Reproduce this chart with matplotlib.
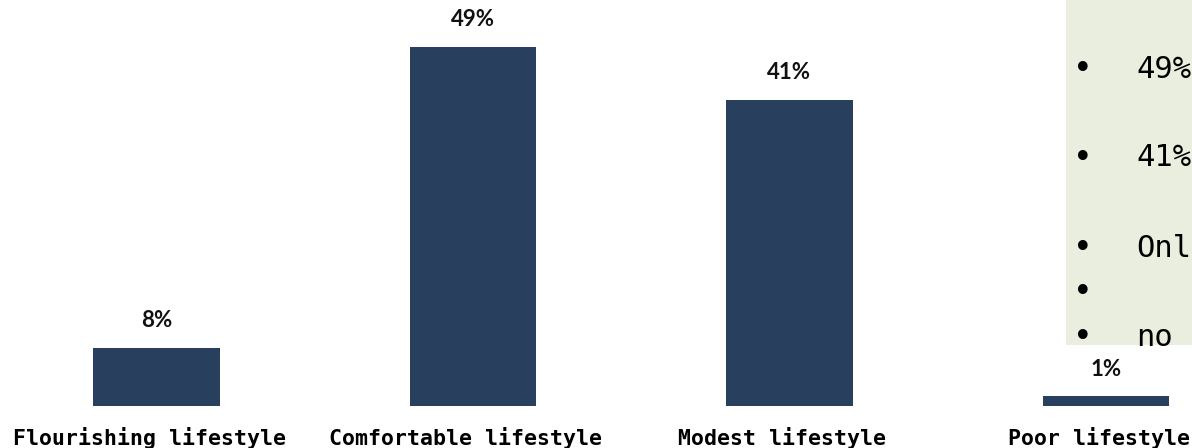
import matplotlib.pyplot as plt
import matplotlib.transforms as mtransforms
from matplotlib.patches import Rectangle

categories = ["Flourishing lifestyle", "Comfortable lifestyle", "Modest lifestyle", "Poor lifestyle"]
shares = [7.9, 48.6, 41.4, 1.35]
value_labels = ["8%", "49%", "41%", "1%"]

# text in the (cropped) note box on the right
note_lines = ["49%", "41%", "Onl", "", "no"]
note_y_px = [69, 158, 248, 292, 337]

W, H = 1192, 448
bar_color = "#283F5E"

fig = plt.figure(figsize=(W / 100, H / 100), dpi=100)
ax = fig.add_axes([0, 42 / H, 1, 406 / H])
x = range(len(categories))
ax.bar(x, shares, width=0.4, color=bar_color, zorder=2)

for xi, v, lab in zip(x, shares, value_labels):
    ax.annotate(lab, (xi, v), xytext=(0, 27 * 0.72), textcoords="offset points",
                ha="center", va="center", fontsize=16, fontweight="bold",
                family="Lato", color="#111111")

ax.set_xlim(-0.4945, 3.272)
ax.set_ylim(0, 54.92)
ax.set_xticks(list(x))
ax.set_xticklabels(categories, family="DejaVu Sans Mono", fontweight="bold", fontsize=15.5)
ax.tick_params(axis="x", length=0, pad=15)
shift = mtransforms.ScaledTranslation(-7 / 100, 0, fig.dpi_scale_trans)
for t in ax.get_xticklabels():
    t.set_transform(t.get_transform() + shift)
ax.set_yticks([])
for s in ax.spines.values():
    s.set_visible(False)

# note box, cut off at the right edge
fig.patches.append(Rectangle((1066 / W, 1 - 345 / H), (W - 1066) / W, 345 / H,
                             transform=fig.transFigure, facecolor="#EAEEDF",
                             edgecolor="none", zorder=0))
for line, yp in zip(note_lines, note_y_px):
    fig.text(1083 / W, 1 - yp / H, "\u2022", ha="center", va="center",
             fontsize=24, color="black")
    fig.text(1136 / W, 1 - yp / H, line, ha="left", va="center",
             family="DejaVu Sans Mono", fontsize=22, color="black")

fig.savefig("out.png", dpi=100)
